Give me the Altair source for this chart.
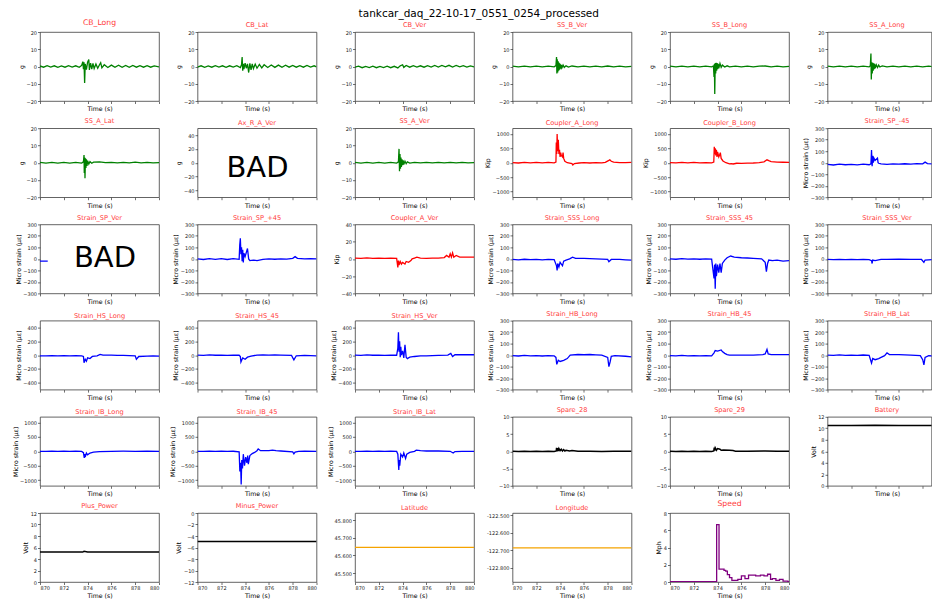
import altair as alt
import pandas as pd

# ------------------------------------------------------------------
# Data (time in s, value)
# ------------------------------------------------------------------
X_TICKS = [870, 872, 874, 876, 878, 880]

CB_LONG = [(870.0,0.3),(870.3,-0.4),(870.6,0.5),(870.9,-0.3),(871.2,0.4),(871.5,-0.5),(871.8,0.3),(872.1,-0.4),
           (872.4,0.5),(872.7,-0.3),(873.0,0.4),(873.3,-0.5),(873.5,0.6),(873.6,2.8),(873.65,-1.5),(873.7,2.5),
           (873.75,-9.5),(873.8,1.5),(873.9,-1.8),(874.0,2.5),(874.1,4.0),(874.15,-2.0),(874.25,2.0),(874.35,-1.5),
           (874.45,1.8),(874.55,-1.2),(874.7,1.5),(874.85,-1.0),(875.0,1.0),(875.1,2.2),(875.2,-0.8),(875.4,1.0),
           (875.7,-0.6),(876.0,0.8),(876.3,-0.5),(876.6,0.7),(876.9,-0.5),(877.2,0.6),(877.5,-0.5),(877.8,0.6),
           (878.1,-0.4),(878.4,0.5),(878.7,-0.4),(879.0,0.5),(879.3,-0.4),(879.6,0.4),(880.0,-0.2)]
CB_LAT = [(870.0,-0.3),(870.3,0.4),(870.6,-0.5),(870.9,0.3),(871.2,-0.4),(871.5,0.5),(871.8,-0.3),(872.1,0.4),
          (872.4,-0.5),(872.7,0.4),(873.0,-0.3),(873.3,0.5),(873.6,-0.6),(873.7,1.0),(873.75,5.5),(873.8,-2.5),
          (873.85,1.5),(873.9,-1.5),(874.0,2.0),(874.1,-1.0),(874.2,1.5),(874.3,-3.5),(874.4,1.8),(874.5,-2.0),
          (874.6,1.5),(874.7,-1.2),(874.85,1.4),(875.0,-1.0),(875.2,1.2),(875.4,-0.8),(875.6,1.0),(875.9,-0.6),
          (876.2,0.9),(876.5,-0.5),(876.8,0.8),(877.1,-0.5),(877.4,0.7),(877.7,-0.4),(878.0,0.6),(878.3,-0.4),
          (878.6,0.5),(878.9,-0.4),(879.2,0.6),(879.5,-0.3),(879.8,0.4),(880.0,-0.2)]
CB_VER = [(870.0,-0.4),(870.3,0.2),(870.6,-0.7),(870.9,0.1),(871.2,-0.6),(871.5,0.2),(871.8,-0.7),(872.1,0.1),
          (872.4,-0.6),(872.7,0.2),(873.0,-0.7),(873.3,0.1),(873.6,-0.8),(873.8,0.4),(874.0,1.0),(874.1,-0.5),
          (874.3,0.6),(874.6,-0.4),(874.9,0.5),(875.2,-0.3),(875.5,0.4),(875.8,-0.4),(876.1,0.5),(876.4,-0.3),
          (876.7,0.6),(877.0,-0.3),(877.3,0.6),(877.6,-0.2),(877.9,0.7),(878.2,-0.3),(878.5,0.6),(878.8,-0.2),
          (879.1,0.5),(879.4,-0.3),(879.7,0.4),(880.0,-0.2)]
SS_B_VER = [(870.0,0.2),(870.5,-0.2),(871.0,0.2),(871.5,-0.2),(872.0,0.2),(872.5,-0.2),(873.0,0.2),(873.5,-0.2),
            (873.65,0.5),(873.7,5.5),(873.73,-4.0),(873.76,4.2),(873.8,-3.5),(873.84,3.0),(873.88,-2.5),
            (873.92,2.2),(873.96,-1.8),(874.0,1.5),(874.05,-1.2),(874.1,1.0),(874.15,-0.8),(874.25,0.8),
            (874.35,-0.5),(874.5,0.4),(874.7,-0.3),(875.0,0.3),(875.5,-0.2),(876.0,0.2),(876.5,-0.2),(877.0,0.2),
            (877.5,-0.2),(878.0,0.3),(878.5,-0.2),(879.0,0.2),(879.5,-0.2),(880.0,0.1)]
SS_B_LONG = [(870.0,0.2),(870.5,-0.2),(871.0,0.2),(871.5,-0.2),(872.0,0.2),(872.5,-0.2),(873.0,0.2),(873.5,-0.2),
             (873.65,0.3),(873.7,-6.0),(873.73,1.5),(873.76,-16.0),(873.8,2.0),(873.84,-4.0),(873.88,2.2),
             (873.92,-2.5),(873.96,2.0),(874.0,-1.5),(874.05,1.5),(874.1,-1.0),(874.2,1.8),(874.3,-0.5),
             (874.4,0.8),(874.6,-0.3),(874.8,0.4),(875.0,-0.2),(875.5,0.2),(876.0,-0.2),(876.5,0.2),(877.0,-0.2),
             (877.5,0.2),(878.0,0.3),(878.5,-0.2),(879.0,0.2),(879.5,-0.2),(880.0,0.1)]
SS_A_LONG = [(870.0,0.2),(870.5,-0.2),(871.0,0.2),(871.5,-0.2),(872.0,0.2),(872.5,-0.2),(873.0,0.2),(873.5,-0.2),
             (873.6,0.5),(873.65,7.5),(873.68,-7.5),(873.72,2.5),(873.76,-4.0),(873.8,2.2),(873.84,-2.5),
             (873.88,1.8),(873.92,-1.5),(873.96,1.5),(874.0,-1.0),(874.1,1.0),(874.2,-0.6),(874.3,0.8),
             (874.4,-0.3),(874.6,0.3),(875.0,-0.2),(875.5,0.2),(876.0,-0.2),(876.5,0.2),(877.0,-0.2),(877.5,0.2),
             (878.0,-0.2),(878.5,0.2),(879.0,-0.2),(879.5,0.2),(880.0,0.0)]
SS_A_LAT = [(870.0,0.2),(870.5,-0.2),(871.0,0.2),(871.5,-0.2),(872.0,0.2),(872.5,-0.2),(873.0,0.2),(873.5,-0.2),
            (873.65,0.5),(873.7,4.5),(873.72,-6.0),(873.75,3.0),(873.78,-9.0),(873.82,2.5),(873.86,-3.0),
            (873.9,2.0),(873.95,-1.8),(874.0,1.2),(874.1,-0.8),(874.2,0.6),(874.35,-0.3),(874.5,0.3),(875.0,0.5),
            (875.5,0.0),(876.0,0.2),(876.5,-0.1),(877.0,0.2),(877.5,-0.1),(878.0,0.3),(878.5,-0.1),(879.0,0.2),
            (879.5,-0.1),(880.0,0.1)]
SS_A_VER = [(870.0,0.2),(870.5,-0.2),(871.0,0.2),(871.5,-0.2),(872.0,0.2),(872.5,-0.2),(873.0,0.2),(873.5,-0.2),
            (873.65,0.5),(873.7,8.0),(873.74,-5.0),(873.78,5.0),(873.82,-3.5),(873.86,3.0),(873.9,-2.5),
            (873.95,2.0),(874.0,-1.5),(874.05,1.4),(874.1,-1.0),(874.2,0.9),(874.3,-0.6),(874.4,0.5),(874.6,-0.2),
            (875.0,0.2),(875.5,-0.1),(876.0,0.2),(876.5,-0.1),(877.0,0.2),(877.5,-0.1),(878.0,0.2),(878.5,-0.1),
            (879.0,0.2),(879.5,-0.1),(880.0,0.1)]
COUPLER_A_LONG = [(870.0,5),(870.5,-10),(871.0,8),(871.5,-8),(872.0,10),(872.5,-5),(873.0,8),(873.5,-6),
                  (873.65,20),(873.68,700),(873.72,300),(873.75,1000),(873.8,400),(873.85,800),(873.9,300),
                  (873.95,450),(874.0,200),(874.05,350),(874.1,250),(874.2,200),(874.25,350),(874.3,150),
                  (874.4,50),(874.6,0),(875.0,-30),(875.07,-80),(875.2,-30),(875.6,-10),(876.0,0),(876.5,-10),
                  (877.0,0),(877.5,-5),(877.8,10),(878.1,80),(878.18,100),(878.3,50),(878.5,20),(879.0,0),
                  (879.5,5),(880.0,10)]
COUPLER_B_LONG = [(870.0,5),(870.5,-8),(871.0,8),(871.5,-6),(872.0,8),(872.5,-5),(873.0,6),(873.5,-4),
                  (873.68,20),(873.72,550),(873.76,300),(873.8,500),(873.85,250),(873.9,450),(873.95,200),
                  (874.0,380),(874.1,200),(874.2,300),(874.23,350),(874.3,150),(874.45,60),(874.7,0),
                  (875.0,-40),(875.15,-30),(875.3,-45),(875.6,-20),(876.0,-25),(876.5,-15),(877.0,-10),
                  (877.5,0),(877.9,30),(878.15,100),(878.3,70),(878.5,40),(879.0,20),(879.5,15),(880.0,10)]
STRAIN_SP_M45 = [(870.0,-15),(870.5,-20),(871.0,-12),(871.5,-18),(872.0,-14),(872.5,-19),(873.0,-13),(873.5,-18),
                 (873.65,-10),(873.7,110),(873.75,-30),(873.8,60),(873.85,0),(873.9,40),(874.0,20),(874.2,40),
                 (874.25,0),(874.3,-5),(874.5,-10),(875.0,-15),(875.5,-10),(876.0,-13),(876.5,-9),(877.0,-12),
                 (877.5,-8),(878.0,-10),(878.2,5),(878.4,-8),(879.0,-12),(879.5,-9),(880.0,-12)]
STRAIN_SP_VER = [(870.0,-20),(870.65,-20)]
STRAIN_SP_P45 = [(870.0,0),(870.5,-5),(871.0,3),(871.5,-4),(872.0,2),(872.5,-5),(873.0,3),(873.5,-4),
                 (873.55,120),(873.6,180),(873.65,40),(873.7,100),(873.75,-20),(873.8,80),(873.85,-30),
                 (873.9,50),(874.0,20),(874.2,90),(874.3,0),(874.4,-15),(874.7,-10),(875.0,-15),(875.5,-5),
                 (876.0,0),(876.5,-3),(877.0,0),(877.5,-2),(878.0,5),(878.2,20),(878.4,5),(879.0,0),(879.5,3),
                 (880.0,0)]
COUPLER_A_VER = [(870.0,1),(870.5,0.5),(871.0,1.2),(871.5,0.6),(872.0,1.0),(872.5,0.5),(873.0,1.0),(873.5,0.6),
                 (873.6,-10),(873.65,-2),(873.7,-7),(873.8,-3),(873.9,-6),(874.0,-4),(874.2,-6),(874.3,-3),
                 (874.5,-4),(874.7,-2),(874.8,0),(875.0,1),(875.2,2),(875.5,1),(876.0,0.5),(876.5,1),(877.0,1),
                 (877.5,1.5),(877.7,4),(877.9,2),(878.0,6),(878.1,2),(878.2,7),(878.3,2),(878.5,4),(878.8,2),
                 (879.5,2),(880.0,2)]
STRAIN_SSS_LONG = [(870.0,-5),(870.5,-8),(871.0,-3),(871.5,-7),(872.0,-4),(872.5,-8),(873.0,-4),(873.5,-6),
                   (873.7,-60),(873.75,-100),(873.8,-40),(873.9,-70),(874.0,-30),(874.2,-60),(874.3,-20),
                   (874.5,-10),(874.8,0),(875.05,15),(875.3,5),(876.0,5),(876.5,2),(877.0,0),(877.5,-2),
                   (878.0,-5),(878.1,-25),(878.3,-5),(879.0,-5),(879.5,-8),(880.0,-10)]
STRAIN_SSS_45 = [(870.0,0),(870.5,-3),(871.0,2),(871.5,-2),(872.0,0),(872.5,-3),(873.0,1),(873.5,-2),
                 (873.7,-170),(873.75,-50),(873.8,-260),(873.85,-40),(873.9,-150),(874.0,-50),(874.1,-120),
                 (874.2,-40),(874.3,-120),(874.4,-40),(874.6,-10),(874.8,10),(875.1,25),(875.4,15),(876.0,10),
                 (876.5,8),(877.0,5),(877.7,0),(878.0,-30),(878.1,-110),(878.2,-40),(878.3,-10),(878.6,-15),
                 (879.0,-10),(879.5,-20),(880.0,-15)]
STRAIN_SSS_VER = [(870.0,-5),(870.5,-7),(871.0,-4),(871.5,-6),(872.0,-5),(872.5,-7),(873.0,-4),(873.5,-6),
                  (873.7,-15),(873.75,-40),(873.8,-10),(874.0,-15),(874.5,-5),(875.0,-5),(876.0,-3),(877.0,-4),
                  (877.9,-5),(878.1,-30),(878.2,-10),(879.0,-4),(880.0,-5)]
STRAIN_HS_LONG = [(870.0,-10),(870.5,-12),(871.0,-8),(871.5,-11),(872.0,-9),(872.5,-12),(873.0,-9),(873.5,-11),
                  (873.65,-20),(873.7,-110),(873.8,-60),(873.9,-90),(874.0,-40),(874.2,-50),(874.4,-20),
                  (874.8,-10),(875.05,10),(875.3,0),(876.0,0),(876.5,-3),(877.0,-5),(878.0,-10),(878.1,-60),
                  (878.3,-20),(879.0,-15),(879.5,-12),(880.0,-15)]
STRAIN_HS_45 = [(870.0,0),(870.5,-3),(871.0,2),(871.5,-2),(872.0,1),(872.5,-3),(873.0,1),(873.5,-2),
                (873.6,-20),(873.65,-100),(873.8,-40),(874.0,-60),(874.2,-30),(874.5,-15),(875.0,0),(875.5,2),
                (876.0,0),(876.5,2),(877.0,0),(877.9,-5),(878.1,-70),(878.3,-10),(879.0,-5),(879.5,-8),
                (880.0,-10)]
STRAIN_HS_VER = [(870.0,0),(870.5,-3),(871.0,2),(871.5,-2),(872.0,1),(872.5,-3),(873.0,1),(873.5,-2),
                 (873.6,100),(873.65,330),(873.7,50),(873.75,200),(873.8,-30),(873.85,120),(873.9,0),(874.0,60),
                 (874.1,-40),(874.2,150),(874.3,-30),(874.4,-50),(874.6,-30),(875.0,-20),(875.5,-10),
                 (876.0,-10),(877.0,-5),(877.8,0),(878.05,25),(878.2,-20),(878.4,5),(879.0,5),(880.0,5)]
STRAIN_HB_LONG = [(870.0,-5),(870.5,-8),(871.0,-3),(871.5,-7),(872.0,-4),(872.5,-8),(873.0,-4),(873.5,-6),
                  (873.65,-20),(873.72,-80),(873.85,-45),(874.0,-55),(874.3,-45),(874.6,-30),(874.85,0),
                  (875.5,5),(876.0,3),(876.5,5),(877.0,2),(877.5,0),(878.0,-20),(878.1,-100),(878.2,-60),
                  (878.3,-10),(878.6,-5),(879.5,-10),(880.0,-15)]
STRAIN_HB_45 = [(870.0,-5),(870.5,-7),(871.0,-3),(871.5,-6),(872.0,-4),(872.5,-7),(873.0,-4),(873.5,-6),
                (873.7,20),(873.8,40),(874.0,35),(874.3,45),(874.4,30),(874.6,15),(874.8,5),(875.0,0),
                (876.0,0),(877.0,0),(877.8,5),(878.0,10),(878.15,50),(878.25,10),(878.5,5),(880.0,5)]
STRAIN_HB_LAT = [(870.0,0),(870.5,-3),(871.0,2),(871.5,-2),(872.0,0),(872.5,-3),(873.0,1),(873.5,-2),
                 (873.7,-70),(873.8,-30),(874.0,-40),(874.3,-30),(874.5,-20),(874.8,-5),(875.0,20),(875.2,5),
                 (876.0,5),(877.0,0),(877.8,-5),(878.0,-40),(878.1,-85),(878.2,-20),(878.5,-5),(879.0,-10),
                 (880.0,-10)]
STRAIN_IB_LONG = [(870.0,0),(870.5,-5),(871.0,3),(871.5,-4),(872.0,2),(872.5,-5),(873.0,2),(873.5,-4),
                  (873.65,-50),(873.72,-230),(873.75,-100),(873.8,-200),(873.9,-60),(874.0,-120),(874.2,-60),
                  (874.5,-30),(875.0,-10),(876.0,0),(877.0,3),(878.0,0),(879.0,2),(880.0,0)]
STRAIN_IB_45 = [(870.0,0),(870.5,-5),(871.0,3),(871.5,-4),(872.0,2),(872.5,-5),(873.0,2),(873.5,-20),
                (873.56,-700),(873.62,-400),(873.67,-1150),(873.72,-300),(873.78,-600),(873.85,-100),
                (873.95,-500),(874.05,-200),(874.15,-400),(874.22,-150),(874.27,-450),(874.4,-150),
                (874.6,-80),(874.8,-40),(875.0,20),(875.1,80),(875.3,20),(876.0,20),(876.3,40),(876.6,20),
                (877.0,10),(878.0,-20),(878.1,-90),(878.2,-30),(878.5,0),(879.0,5),(880.0,0)]
STRAIN_IB_LAT = [(870.0,0),(870.5,-5),(871.0,3),(871.5,-4),(872.0,2),(872.5,-5),(873.0,2),(873.5,-4),
                 (873.6,-100),(873.68,-650),(873.72,-300),(873.76,-500),(873.85,-100),(874.0,-200),
                 (874.1,-60),(874.25,-250),(874.35,-100),(874.6,-40),(875.0,0),(875.15,40),(875.5,20),
                 (876.0,10),(877.0,10),(878.0,0),(878.25,-60),(878.4,-10),(879.0,0),(880.0,0)]
SPARE_28 = [(870.0,0.05),(870.5,-0.05),(871.0,0.05),(871.5,-0.05),(872.0,0.05),(872.5,-0.05),(873.0,0.05),
            (873.5,-0.05),(873.68,0.1),(873.7,1.0),(873.75,0.0),(873.8,0.9),(873.85,0.1),(873.9,0.8),
            (874.0,0.2),(874.1,0.6),(874.2,0.1),(874.3,0.5),(874.4,0.1),(874.5,0.3),(874.8,0.1),(875.0,0.2),
            (875.5,0.0),(876.5,0.05),(877.5,-0.05),(878.5,0.05),(880.0,0.0)]
SPARE_29 = [(870.0,0.05),(870.5,-0.05),(871.0,0.05),(871.5,-0.05),(872.0,0.05),(872.5,-0.05),(873.0,0.05),
            (873.5,-0.05),(873.68,0.1),(873.72,1.1),(873.75,0.2),(873.8,1.0),(873.9,0.3),(874.0,0.8),
            (874.2,0.6),(874.3,0.3),(874.5,0.4),(875.0,0.3),(875.3,0.2),(875.5,0.05),(876.5,0.0),
            (878.0,0.1),(879.0,0.05),(880.0,0.0)]
BATTERY = [(870.0,10.5),(872.0,10.48),(874.0,10.55),(876.0,10.5),(878.0,10.48),(880.0,10.5)]
PLUS_POWER = [(870.0,5.2),(873.6,5.2),(873.7,5.35),(873.9,5.25),(874.0,5.2),(880.0,5.2)]
MINUS_POWER = [(870.0,-4.95),(875.0,-4.95),(880.0,-4.95)]
LATITUDE = [(870.0,45.646),(880.0,45.646)]
LONGITUDE = [(870.0,-122.686),(880.0,-122.686)]
SPEED = [(870.0,0.05),(873.92,6.65),(874.12,1.5),(874.54,1.35),(874.68,1.25),(874.82,0.85),(875.0,0.5),
         (875.2,0.2),(875.7,0.3),(876.0,0.7),(876.3,0.4),(876.6,0.8),(877.2,0.7),(877.6,0.8),(877.9,0.7),
         (878.2,0.9),(878.45,0.3),(878.6,0.4),(878.9,0.2),(879.2,0.3),(879.5,0.1),(879.9,0.05),(880.0,0.0)]

# axis ranges / ticks
G_DOM, G_TICKS = [-20, 20], [-20, -10, 0, 10, 20]
AX_DOM, AX_TICKS = [-50, 50], [-40, -20, 0, 20, 40]
KIP_DOM, KIP_TICKS = [-1200, 1200], [-1000, -500, 0, 500, 1000]
KV_DOM, KV_TICKS = [-40, 40], [-40, -20, 0, 20, 40]
S3_DOM, S3_TICKS = [-300, 300], [-300, -200, -100, 0, 100, 200, 300]
S5_DOM, S5_TICKS = [-500, 500], [-400, -200, 0, 200, 400]
S12_DOM, S12_TICKS = [-1200, 1200], [-1000, -500, 0, 500, 1000]
SP_DOM, SP_TICKS = [-10, 10], [-10, -5, 0, 5, 10]
V_DOM, V_TICKS = [0, 12], [0, 2, 4, 6, 8, 10, 12]
VM_DOM, VM_TICKS = [-12, 0], [-12, -10, -8, -6, -4, -2, 0]
LAT_DOM, LAT_TICKS = [45.45, 45.84], [45.5, 45.6, 45.7, 45.8]
LON_DOM, LON_TICKS = [-122.881, -122.487], [-122.8, -122.7, -122.6, -122.5]
SPD_DOM, SPD_TICKS = [0, 8], [0, 2, 4, 6, 8]

GREEN, RED, BLUE, BLACK, ORANGE, PURPLE = "green", "red", "blue", "black", "#f5a300", "purple"
MS = "Micro strain (\u03bc\u03b5)"

PANELS = [
    ("CB_Long", CB_LONG, GREEN, G_DOM, G_TICKS, "g"),
    ("CB_Lat", CB_LAT, GREEN, G_DOM, G_TICKS, "g"),
    ("CB_Ver", CB_VER, GREEN, G_DOM, G_TICKS, "g"),
    ("SS_B_Ver", SS_B_VER, GREEN, G_DOM, G_TICKS, "g"),
    ("SS_B_Long", SS_B_LONG, GREEN, G_DOM, G_TICKS, "g"),
    ("SS_A_Long", SS_A_LONG, GREEN, G_DOM, G_TICKS, "g"),
    ("SS_A_Lat", SS_A_LAT, GREEN, G_DOM, G_TICKS, "g"),
    ("Ax_R_A_Ver", [], GREEN, AX_DOM, AX_TICKS, "g"),
    ("SS_A_Ver", SS_A_VER, GREEN, G_DOM, G_TICKS, "g"),
    ("Coupler_A_Long", COUPLER_A_LONG, RED, KIP_DOM, KIP_TICKS, "Kip"),
    ("Coupler_B_Long", COUPLER_B_LONG, RED, KIP_DOM, KIP_TICKS, "Kip"),
    ("Strain_SP_-45", STRAIN_SP_M45, BLUE, S3_DOM, S3_TICKS, MS),
    ("Strain_SP_Ver", STRAIN_SP_VER, BLUE, S3_DOM, S3_TICKS, MS),
    ("Strain_SP_+45", STRAIN_SP_P45, BLUE, S3_DOM, S3_TICKS, MS),
    ("Coupler_A_Ver", COUPLER_A_VER, RED, KV_DOM, KV_TICKS, "Kip"),
    ("Strain_SSS_Long", STRAIN_SSS_LONG, BLUE, S3_DOM, S3_TICKS, MS),
    ("Strain_SSS_45", STRAIN_SSS_45, BLUE, S3_DOM, S3_TICKS, MS),
    ("Strain_SSS_Ver", STRAIN_SSS_VER, BLUE, S3_DOM, S3_TICKS, MS),
    ("Strain_HS_Long", STRAIN_HS_LONG, BLUE, S5_DOM, S5_TICKS, MS),
    ("Strain_HS_45", STRAIN_HS_45, BLUE, S5_DOM, S5_TICKS, MS),
    ("Strain_HS_Ver", STRAIN_HS_VER, BLUE, S5_DOM, S5_TICKS, MS),
    ("Strain_HB_Long", STRAIN_HB_LONG, BLUE, S3_DOM, S3_TICKS, MS),
    ("Strain_HB_45", STRAIN_HB_45, BLUE, S3_DOM, S3_TICKS, MS),
    ("Strain_HB_Lat", STRAIN_HB_LAT, BLUE, S3_DOM, S3_TICKS, MS),
    ("Strain_IB_Long", STRAIN_IB_LONG, BLUE, S12_DOM, S12_TICKS, MS),
    ("Strain_IB_45", STRAIN_IB_45, BLUE, S12_DOM, S12_TICKS, MS),
    ("Strain_IB_Lat", STRAIN_IB_LAT, BLUE, S12_DOM, S12_TICKS, MS),
    ("Spare_28", SPARE_28, BLACK, SP_DOM, SP_TICKS, ""),
    ("Spare_29", SPARE_29, BLACK, SP_DOM, SP_TICKS, ""),
    ("Battery", BATTERY, BLACK, V_DOM, V_TICKS, "Volt"),
    ("Plus_Power", PLUS_POWER, BLACK, V_DOM, V_TICKS, "Volt"),
    ("Minus_Power", MINUS_POWER, BLACK, VM_DOM, VM_TICKS, "Volt"),
    ("Latitude", LATITUDE, ORANGE, LAT_DOM, LAT_TICKS, ""),
    ("Longitude", LONGITUDE, ORANGE, LON_DOM, LON_TICKS, ""),
    ("Speed", SPEED, PURPLE, SPD_DOM, SPD_TICKS, "Mph"),
]
BAD_POS = {"Ax_R_A_Ver": (60, 39.5), "Strain_SP_Ver": (65, 33.5)}
BIG_TITLES = {"CB_Long", "Speed"}

W, H = 119, 69
W_LAST = 104           # right-most column is cut by the window edge in the reference
PX_PER_S = W / 10.0
FONT = "DejaVu Sans"
TITLE_RED = "#ff3b3b"


def make_panel(i, name, pts, color, dom, ticks, ytitle):
    bottom = i >= 30
    last_col = (i % 6) == 5
    width = W_LAST if last_col else W
    t_hi = 870 + width / PX_PER_S
    xt = [t for t in X_TICKS if t <= t_hi]
    if pts:
        df = pd.DataFrame(pts, columns=["t", "v"])
    else:
        df = pd.DataFrame({"t": pd.Series([], dtype=float), "v": pd.Series([], dtype=float)})
    if name == "Latitude":
        yax = alt.Axis(values=ticks, title=ytitle, format=".3f")
    elif name == "Longitude":
        yax = alt.Axis(values=ticks, title=ytitle,
                       labelExpr="replace(format(datum.value, '.3f'), '\u2212', '-')")
    else:
        yax = alt.Axis(values=ticks, title=ytitle, format="d")
    if last_col:
        xax = alt.Axis(values=xt, labels=bottom, format="d", title="Time (s)", titleX=W / 2)
    else:
        xax = alt.Axis(values=xt, labels=bottom, format="d", title="Time (s)")
    line = alt.Chart(df).mark_line(
        color=color, strokeWidth=1.5 if color == BLACK else 1.3, clip=True,
        interpolate="step-after" if name == "Speed" else "linear",
    ).encode(
        x=alt.X("t:Q", scale=alt.Scale(domain=[870, t_hi], nice=False, zero=False), axis=xax),
        y=alt.Y("v:Q", scale=alt.Scale(domain=dom, nice=False, zero=False), axis=yax),
    )
    big = name in BIG_TITLES
    title = alt.TitleParams(text=name, color=TITLE_RED, fontSize=7.7 if big else 6.6,
                            offset=3.5 if big else 1.2, fontWeight="normal", anchor="middle", font=FONT,
                            dx=(W - width) / 2)
    if name in BAD_POS:
        bx, by = BAD_POS[name]
        txt = alt.Chart(pd.DataFrame({"label": ["BAD"]})).mark_text(
            fontSize=29, align="center", baseline="middle", color="black", font=FONT
        ).encode(text="label:N", x=alt.value(bx), y=alt.value(by))
        return alt.layer(line, txt).properties(width=width, height=H, title=title)
    return line.properties(width=width, height=H, title=title)


panels = [make_panel(i, *p) for i, p in enumerate(PANELS)]

chart = alt.concat(
    *panels, columns=6, spacing={"row": 27.2, "column": 38.5}, bounds="flush"
).properties(
    title=alt.TitleParams(text="tankcar_daq_22-10-17_0551_0254_processed", fontSize=10.5,
                          fontWeight="normal", color="black", anchor="middle", font=FONT, offset=-1, dx=7),
    padding={"left": 3, "top": 0, "right": 0, "bottom": 0},
).configure_view(
    stroke="#3c3c3c", strokeWidth=0.8
).configure_axis(
    grid=False, domain=False, tickSize=2.5, tickColor="#333333", tickWidth=0.7, minExtent=0,
    labelFont=FONT, labelFontSize=5, labelColor="#222222", labelPadding=1,
    titleFont=FONT, titleFontSize=6.2, titleFontWeight="normal", titleColor="black", titlePadding=1.5,
).configure_axisX(
    titlePadding=2
).configure_text(font=FONT)

chart.save("out.html", embed_options={"renderer": "svg", "actions": False})
